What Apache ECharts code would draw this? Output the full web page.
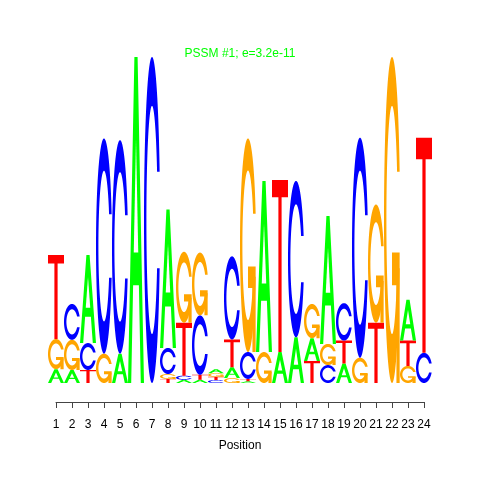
<!DOCTYPE html>
<html><head><meta charset="utf-8">
<script src="https://cdn.jsdelivr.net/npm/echarts@6/dist/echarts.min.js"></script>
<style>html,body{margin:0;padding:0;background:#fff}#c{width:480px;height:480px}</style>
</head><body><div id="c"></div>
<script>
// ---- data (letter heights in bits) ----
const positions = [1,2,3,4,5,6,7,8,9,10,11,12,13,14,15,16,17,18,19,20,21,22,23,24];
const bitsA = [0.085,0.08,0.54,0,0.18,2.0,0,0.85,0.02,0.02,0.025,0.067,0.01,1.05,0.19,0.28,0.14,0.785,0.12,0,0,0,0.25,0];
const bitsC = [0,0.22,0.165,1.32,1.31,0,2.0,0.16,0.025,0.365,0.018,0.51,0.165,0,0,0.96,0,0.11,0.23,1.35,0,0,0,0.185];
const bitsG = [0.185,0.185,0,0.18,0,0,0,0.03,0.435,0.385,0.022,0.03,1.31,0.19,0,0,0.21,0.13,0,0.155,0.725,2.0,0.105,0];
const bitsT = [0.515,0,0.08,0,0,0,0,0.025,0.325,0.03,0.02,0.17,0.015,0,1.055,0,0.135,0,0.14,0,0.37,0,0.155,1.32];
const letters = ['A','C','G','T'];
const xTickLabels = positions.map(String);
const titleText = 'PSSM #1; e=3.2e-11';
const axisName = 'Position';

// ---- styles ----
const FONT = 'Liberation Sans, Arial, Helvetica, sans-serif';
const letterColors = {A:'#00ff00', C:'#0000ff', G:'#ffa500', T:'#ff0000'};

// ---- glyph outlines in a unit box (y up) ----
function arcPts(r, a0, a1, n){
  const p=[];
  for(let i=0;i<n;i++){const a=a0+(a1-a0)*i/(n-1); p.push([0.5+r*Math.sin(a), 0.5+r*Math.cos(a)]);}
  return p;
}
function cOutline(){
  const n=80;
  const a0=0.3+Math.PI/2;
  const l1=arcPts(0.5,a0,Math.PI,n);
  const l=l1.concat(arcPts(0.5,Math.PI,1.5*Math.PI,n));
  const maxY1=Math.max(...l1.map(p=>p[1]));
  const outer=l.concat(l.slice().reverse().map(p=>[p[0],1-p[1]]));
  let i1=arcPts(0.35,a0,Math.PI,n).filter(p=>p[1]<=maxY1);
  i1[0]=[i1[0][0],maxY1];
  const inner0=i1.concat(arcPts(0.35,Math.PI,1.5*Math.PI,n));
  const inner=inner0.concat(inner0.slice().reverse().map(p=>[p[0],1-p[1]]));
  return {outer:outer.concat(inner.slice().reverse()), r1:Math.max(...l1.map(p=>p[0]))};
}
const cO=cOutline();
const glyphs={
  A:[{pts:[[0,0],[0.4,1],[0.6,1],[1,0],[0.8,0],[0.68,0.3],[0.32,0.3],[0.2,0]],fill:null},
     {pts:[[0.36,0.4],[0.5,0.75],[0.64,0.4]],fill:'#ffffff'}],
  C:[{pts:cO.outer,fill:null}],
  G:[{pts:cO.outer,fill:null},
     {pts:[[cO.r1,0.4],[0.5,0.4],[0.5,0.3],[cO.r1-0.2,0.3],[cO.r1-0.2,0],[cO.r1,0]],fill:null}],
  T:[{pts:[[0,1],[1,1],[1,0.9],[0.6,0.9],[0.6,0],[0.4,0],[0.4,0.9],[0,0.9]],fill:null}]
};

// ---- stack letters: smallest at the bottom ----
const bitsBy={A:bitsA,C:bitsC,G:bitsG,T:bitsT};
const stackData=[];
positions.forEach((pos,i)=>{
  const col=letters.map((L,li)=>({li,h:bitsBy[L][i]})).filter(d=>d.h>0).sort((a,b)=>a.h-b.h);
  let y=0;
  col.forEach(d=>{stackData.push([pos,y,y+d.h,d.li]); y+=d.h;});
});

const chart=echarts.init(document.getElementById('c'),null,{renderer:'canvas'});
chart.setOption({
  backgroundColor:'#ffffff',
  animation:false,
  textStyle:{fontFamily:FONT},
  title:{text:titleText,left:'center',top:43,textStyle:{fontSize:12,fontWeight:'normal',color:'#00ff00',fontFamily:FONT}},
  grid:[
    {left:48,right:48,top:57,bottom:97,containLabel:false,outerBoundsMode:'none'},
    {left:56,right:56,top:401,height:1,containLabel:false,outerBoundsMode:'none'}
  ],
  xAxis:[
    {gridIndex:0,type:'value',min:0.5,max:24.5,show:false},
    {gridIndex:1,type:'value',min:1,max:24,interval:1,
     axisLine:{show:true,onZero:false,lineStyle:{color:'#444',width:1}},
     axisTick:{show:true,length:6,lineStyle:{color:'#444',width:1}},
     axisLabel:{show:true,fontSize:12,color:'#000',margin:17,fontFamily:FONT,
       showMinLabel:true,showMaxLabel:true,formatter:v=>xTickLabels[Math.round(v)-1]},
     splitLine:{show:false},
     name:axisName,nameLocation:'middle',nameGap:38,
     nameTextStyle:{fontSize:12,color:'#000',fontFamily:FONT}}
  ],
  yAxis:[
    {gridIndex:0,type:'value',min:0,max:2,show:false},
    {gridIndex:1,type:'value',min:0,max:1,show:false}
  ],
  series:[{
    type:'custom',coordinateSystem:'cartesian2d',xAxisIndex:0,yAxisIndex:0,clip:false,
    data:stackData,
    encode:{x:0,y:[1,2]},
    renderItem:function(params,api){
      const pos=api.value(0),y0=api.value(1),y1=api.value(2),li=api.value(3);
      const p0=api.coord([pos-0.5,y0]);
      const p1=api.coord([pos+0.5,y1]);
      const w=p1[0]-p0[0], h=p0[1]-p1[1];
      const L=letters[li];
      const children=glyphs[L].map(part=>({
        type:'polygon',
        shape:{points:part.pts.map(p=>[p0[0]+p[0]*w,p0[1]-p[1]*h])},
        style:{fill:part.fill===null?letterColors[L]:part.fill}
      }));
      return {type:'group',children};
    }
  }]
});
</script></body></html>
